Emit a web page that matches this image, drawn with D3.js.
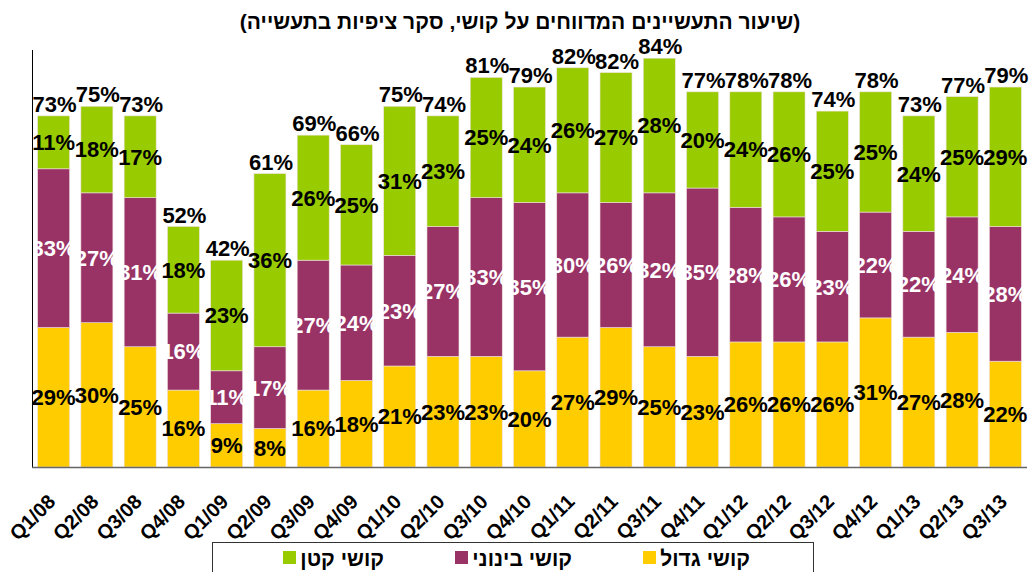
<!DOCTYPE html>
<html>
<head>
<meta charset="utf-8">
<script src="https://cdn.jsdelivr.net/npm/d3@7"></script>
<style>
  html, body { margin: 0; padding: 0; background: #fff; }
  svg { display: block; font-family: "Liberation Sans", Arial, sans-serif; }
</style>
</head>
<body>
<svg id="chart" width="1034" height="572"></svg>
<script>
const title = "(שיעור התעשיינים המדווחים על קושי, סקר ציפיות בתעשייה)";
const categories = ["Q1/08","Q2/08","Q3/08","Q4/08","Q1/09","Q2/09","Q3/09","Q4/09","Q1/10","Q2/10","Q3/10","Q4/10","Q1/11","Q2/11","Q3/11","Q4/11","Q1/12","Q2/12","Q3/12","Q4/12","Q1/13","Q2/13","Q3/13"];
const seriesNames = ["קושי גדול", "קושי בינוני", "קושי קטן"];
const large  = [29,30,25,16, 9, 8,16,18,21,23,23,20,27,29,25,23,26,26,26,31,27,28,22];
const medium = [33,27,31,16,11,17,27,24,23,27,33,35,30,26,32,35,28,26,23,22,22,24,28];
const small  = [11,18,17,18,23,36,26,25,31,23,25,24,26,27,28,20,24,26,25,25,24,25,29];
const totals = [73,75,73,52,42,61,69,66,75,74,81,79,82,82,84,77,78,78,74,78,73,77,79];
const colors = ["#FFCC00", "#993366", "#99CC00"];
const labelColors = ["#000", "#fff", "#000"];

const svg = d3.select("#chart");
const plotLeft = 32, plotRight = 1027, plotBottom = 467, plotTop = 50;

const x = d3.scaleBand().domain(categories).range([plotLeft, plotRight]).paddingInner(0.26).paddingOuter(0.13);
const y = d3.scaleLinear().domain([0, 86.7]).range([plotBottom, plotTop]);

const rows = categories.map((c, i) => ({cat: c, s0: large[i], s1: medium[i], s2: small[i], total: totals[i]}));
const stack = d3.stack().keys(["s0","s1","s2"])(rows);

// title
svg.append("text")
  .attr("x", 520).attr("y", 29)
  .attr("text-anchor", "middle")
  .attr("direction", "rtl")
  .style("unicode-bidi", "embed")
  .attr("font-size", 21).attr("font-weight", "bold")
  .text(title);

// bars
const g = svg.append("g");
stack.forEach((layer, li) => {
  g.selectAll(null).data(layer).enter().append("rect")
    .attr("x", d => x(d.data.cat))
    .attr("width", x.bandwidth())
    .attr("y", d => y(d[1]))
    .attr("height", d => y(d[0]) - y(d[1]))
    .attr("fill", colors[li])
    .attr("stroke", "#f0e0e0").attr("stroke-width", 0.6);
});

// segment labels
stack.forEach((layer, li) => {
  g.selectAll(null).data(layer).enter().append("text")
    .attr("x", d => x(d.data.cat) + x.bandwidth() / 2)
    .attr("y", d => (y(d[0]) + y(d[1])) / 2)
    .attr("dy", "0.36em")
    .attr("text-anchor", "middle")
    .attr("font-size", 22).attr("font-weight", "bold")
    .attr("fill", labelColors[li])
    .text(d => (d[1] - d[0]) + "%");
});

// total labels
g.selectAll(null).data(stack[2]).enter().append("text")
  .attr("x", d => x(d.data.cat) + x.bandwidth() / 2 + 1)
  .attr("y", d => y(d[1]) - 4)
  .attr("text-anchor", "middle")
  .attr("font-size", 22).attr("font-weight", "bold")
  .attr("fill", "#000")
  .text(d => d.data.total + "%");

// axes lines
svg.append("line").attr("x1", plotLeft + 0.5).attr("x2", plotLeft + 0.5).attr("y1", plotTop).attr("y2", plotBottom)
  .attr("stroke", "#000").attr("stroke-width", 1);
svg.append("line").attr("x1", plotLeft).attr("x2", plotRight).attr("y1", plotBottom + 0.5).attr("y2", plotBottom + 0.5)
  .attr("stroke", "#666").attr("stroke-width", 1.5);

// x tick labels
svg.append("g").selectAll("text").data(categories).enter().append("text")
  .attr("transform", d => `translate(${x(d) + x.bandwidth() / 2 + 3},${plotBottom + 36}) rotate(-45)`)
  .attr("text-anchor", "end")
  .attr("font-size", 20).attr("font-weight", "bold")
  .text(d => d);

// legend
const lg = svg.append("g");
lg.append("rect").attr("x", 212.5).attr("y", 542.5).attr("width", 601).attr("height", 40)
  .attr("fill", "#fff").attr("stroke", "#333").attr("stroke-width", 1);
const legendItems = [
  {name: seriesNames[0], color: colors[0], sq: 643, textEnd: 750},
  {name: seriesNames[1], color: colors[1], sq: 455, textEnd: 572},
  {name: seriesNames[2], color: colors[2], sq: 283, textEnd: 384}
];
legendItems.forEach(it => {
  lg.append("rect").attr("x", it.sq).attr("y", 551).attr("width", 13).attr("height", 13).attr("fill", it.color);
  lg.append("text").attr("x", it.textEnd).attr("y", 566)
    .attr("text-anchor", "start")
    .attr("direction", "rtl")
    .attr("font-size", 21).attr("font-weight", "bold")
    .text(it.name);
});
</script>
</body>
</html>
